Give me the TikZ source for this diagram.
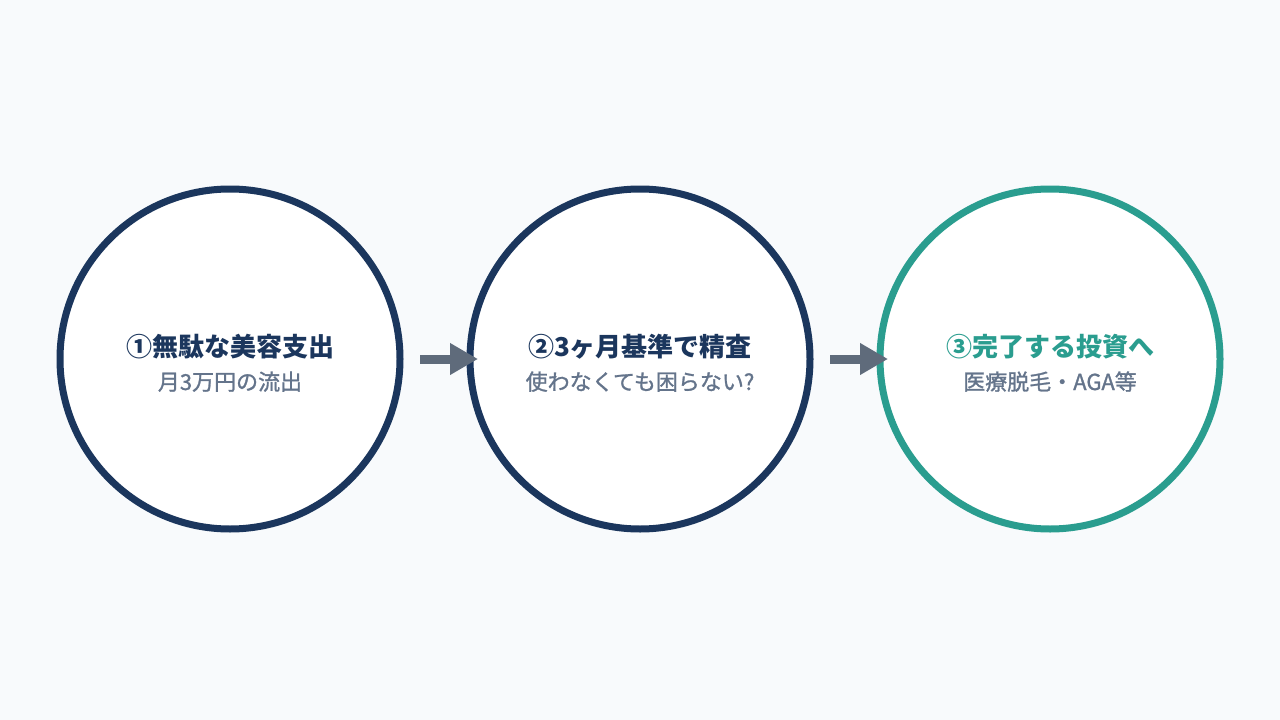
\documentclass[tikz,border=0pt]{standalone}
\usepackage{fontspec}
\setmainfont{Noto Sans CJK JP}
\newfontfamily\subfont{Noto Sans CJK JP}[FakeBold=1.2]
\usetikzlibrary{arrows.meta}
\definecolor{bg}{HTML}{F8FAFC}
\definecolor{navy}{HTML}{1B365D}
\definecolor{teal}{HTML}{2A9D8F}
\definecolor{subgray}{HTML}{64748B}
\definecolor{arrgray}{HTML}{5F6B7B}
\tikzset{
  stepcircle/.style={circle,draw=#1,line width=7pt,fill=white,minimum size=340pt,inner sep=0pt},
  titletext/.style={anchor=base,font=\fontsize{26pt}{30pt}\selectfont\bfseries,text=#1,inner sep=0pt},
  subtext/.style={anchor=base,font=\subfont\fontsize{22pt}{26pt}\selectfont,text=subgray,inner sep=0pt},
  flowarrow/.style={draw=arrgray,line width=9pt,-{Triangle[length=28pt,width=30pt]}}
}
\begin{document}
\begin{tikzpicture}[x=1pt,y=-1pt]
\fill[bg] (0,0) rectangle (1280,720);
\useasboundingbox (0,0) rectangle (1280,720);
\node[stepcircle=navy] (c1) at (230,359) {};
\node[stepcircle=navy] (c2) at (640,359) {};
\node[stepcircle=teal] (c3) at (1050,359) {};
\node[titletext=navy] (t1) at (230,356) {①無駄な美容支出};
\node[subtext] (s1) at (230,390) {月3万円の流出};
\node[titletext=navy] (t2) at (640,356) {②3ヶ月基準で精査};
\node[subtext] (s2) at (640,390) {使わなくても困らない?};
\node[titletext=teal] (t3) at (1050,356) {③完了する投資へ};
\node[subtext] (s3) at (1050,390) {医療脱毛・AGA等};
\draw[flowarrow] ([xshift=16.5pt]c1.east) -- ([xshift=11.5pt]c2.west);
\draw[flowarrow] ([xshift=16.5pt]c2.east) -- ([xshift=11.5pt]c3.west);
\end{tikzpicture}
\end{document}
